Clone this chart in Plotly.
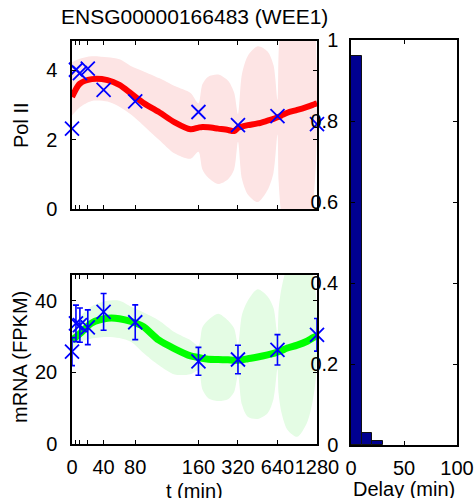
import math
import plotly.graph_objects as go

# ---------------- data ----------------
obs_t = [0, 5, 10, 20, 40, 80, 160, 320, 640, 1280]
polII_obs = [2.32, 4.02, 3.92, 4.05, 3.44, 3.11, 2.80, 2.42, 2.68, 2.45]
mrna_obs = [25.8, 33.7, 33.2, 32.6, 36.9, 34.0, 23.1, 23.6, 26.3, 30.5]
mrna_err = [3.9, 5.1, 4.8, 4.85, 5.15, 4.85, 3.9, 4.0, 4.25, 4.55]

curve_t = [0, 10, 25, 45, 60, 75, 90, 110, 130, 150, 160, 171.5, 190, 226, 269, 299,
           320, 343, 380, 452, 538, 597, 640, 653, 686, 761, 905, 1076, 1194, 1254, 1280]
polII_mean = [3.23, 3.62, 3.75, 3.72, 3.58, 3.33, 3.07, 2.80, 2.50, 2.30, 2.35, 2.37, 2.36, 2.32,
              2.28, 2.25, 2.34, 2.38, 2.42, 2.47, 2.55, 2.60, 2.65, 2.66, 2.70, 2.78, 2.86, 2.95,
              3.01, 3.04, 3.05]
polII_upper = [4.24, 4.34, 4.41, 4.38, 4.32, 4.12, 3.98, 3.78, 3.55, 3.35, 3.05, 3.60, 3.82, 3.88,
               3.70, 3.36, 2.74, 3.89, 4.42, 4.70, 4.55, 4.15, 3.15, 4.52, 5.60, 6.74, 7.36, 6.90,
               5.87, 4.84, 3.45]
polII_lower = [2.70, 2.94, 3.12, 3.10, 2.95, 2.72, 2.42, 2.00, 1.60, 1.45, 1.65, 1.14, 0.90, 0.72,
               0.86, 1.14, 1.94, 0.87, 0.42, 0.20, 0.55, 1.05, 2.15, 0.80, -0.20, -1.18, -1.64,
               -1.00, 0.15, 1.24, 2.65]
mrna_mean = [29.0, 30.8, 33.8, 35.1, 35.0, 34.2, 32.8, 29.0, 26.6, 24.6, 24.2, 23.9, 23.7, 23.6,
             23.5, 23.4, 23.4, 23.5, 23.8, 24.3, 24.9, 25.3, 25.7, 25.8, 26.1, 26.8, 27.6, 28.7,
             29.7, 30.1, 30.3]
mrna_upper = [31.5, 35.5, 38.5, 40.0, 40.0, 38.3, 36.8, 34.5, 31.2, 29.0, 27.5, 32.6, 34.6, 36.4,
              34.5, 32.3, 27.6, 36.0, 40.0, 43.2, 41.2, 38.0, 30.4, 37.6, 43.4, 49.6, 53.2, 51.4,
              46.9, 41.8, 34.8]
mrna_lower = [26.5, 28.5, 29.5, 29.9, 29.6, 28.5, 25.5, 22.0, 19.4, 19.5, 20.5, 15.2, 12.8, 12.0,
              12.5, 14.5, 19.2, 11.0, 7.6, 7.0, 8.6, 12.6, 21.1, 14.0, 8.8, 4.0, 2.0, 6.0, 12.5,
              18.4, 25.8]

tick_t = [0, 5, 10, 20, 40, 80, 160, 320, 640, 1280]
tick_labels = ["0", "", "", "", "40", "80", "160", "320", "640", "1280"]

delay_centers = [5, 15, 25]
delay_prob = [0.96, 0.03, 0.011]

title_text = "ENSG00000166483 (WEE1)"


# time axis: linear up to 160 min, logarithmic (per doubling) above
def tx(t):
    return t if t <= 160 else 160 + 50 * math.log2(t / 160)


def txs(ts):
    return [tx(t) for t in ts]


FONT = "Liberation Sans, Arial, Helvetica, sans-serif"
FS = 20
W, H = 475, 498
BLUE = "#0000FF"

fig = go.Figure()

# ---- Pol II panel ----
fig.add_trace(go.Scatter(x=txs(curve_t), y=polII_lower, mode="lines",
                         line=dict(width=0, shape="spline", smoothing=0.8),
                         xaxis="x", yaxis="y", hoverinfo="skip", showlegend=False))
fig.add_trace(go.Scatter(x=txs(curve_t), y=polII_upper, mode="lines", fill="tonexty",
                         fillcolor="rgb(253,228,228)",
                         line=dict(width=0, shape="spline", smoothing=0.8),
                         xaxis="x", yaxis="y", hoverinfo="skip", showlegend=False))
fig.add_trace(go.Scatter(x=txs(curve_t), y=polII_mean, mode="lines",
                         line=dict(color="#FF0000", width=6, shape="spline", smoothing=0.8),
                         xaxis="x", yaxis="y", showlegend=False))
fig.add_trace(go.Scatter(x=txs(obs_t), y=polII_obs, mode="markers",
                         marker=dict(symbol="x-thin", size=14, line=dict(color=BLUE, width=1.8)),
                         xaxis="x", yaxis="y", showlegend=False, cliponaxis=False))

# ---- mRNA panel ----
fig.add_trace(go.Scatter(x=txs(curve_t), y=mrna_lower, mode="lines",
                         line=dict(width=0, shape="spline", smoothing=0.8),
                         xaxis="x2", yaxis="y2", hoverinfo="skip", showlegend=False))
fig.add_trace(go.Scatter(x=txs(curve_t), y=mrna_upper, mode="lines", fill="tonexty",
                         fillcolor="rgb(228,252,228)",
                         line=dict(width=0, shape="spline", smoothing=0.8),
                         xaxis="x2", yaxis="y2", hoverinfo="skip", showlegend=False))
fig.add_trace(go.Scatter(x=txs(curve_t), y=mrna_mean, mode="lines",
                         line=dict(color="#00FF00", width=7, shape="spline", smoothing=0.8),
                         xaxis="x2", yaxis="y2", showlegend=False))
fig.add_trace(go.Scatter(x=txs(obs_t), y=mrna_obs, mode="markers",
                         marker=dict(symbol="x-thin", size=14, line=dict(color=BLUE, width=1.8)),
                         error_y=dict(type="data", array=mrna_err, visible=True,
                                      color=BLUE, thickness=1.6, width=3),
                         xaxis="x2", yaxis="y2", showlegend=False, cliponaxis=False))

# ---- delay histogram ----
fig.add_trace(go.Bar(x=delay_centers, y=delay_prob, width=10,
                     marker=dict(color="#000090", line=dict(color="#111111", width=1)),
                     xaxis="x3", yaxis="y3", showlegend=False))


# domains from pixel positions
def dx(a, b):
    return [a / W, b / W]


def dy(top, bot):
    return [1 - bot / H, 1 - top / H]


axis_common = dict(showline=True, linecolor="black", linewidth=1.5, mirror="ticks",
                   ticks="inside", ticklen=4, tickwidth=1, tickcolor="black",
                   showgrid=False, zeroline=False, automargin=False, tickangle=0,
                   tickfont=dict(family=FONT, size=FS, color="black"))

fig.update_layout(
    width=W, height=H,
    margin=dict(l=0, r=0, t=0, b=0, autoexpand=False),
    paper_bgcolor="white", plot_bgcolor="white",
    font=dict(family=FONT, size=FS, color="black"),
    bargap=0,
    xaxis=dict(domain=dx(72, 317), range=[0, tx(1280)], anchor="y",
               tickvals=txs(tick_t), ticktext=[""] * len(tick_t), **axis_common),
    yaxis=dict(domain=dy(41, 209), range=[0, 4.85], anchor="x",
               tickvals=[0, 2, 4], ticklabelstandoff=9, **axis_common),
    xaxis2=dict(domain=dx(72, 317), range=[0, tx(1280)], anchor="y2",
                tickvals=txs(tick_t), ticktext=tick_labels, ticklabelstandoff=4,
                **axis_common),
    yaxis2=dict(domain=dy(275, 444), range=[0, 47.2], anchor="x2",
                tickvals=[0, 20, 40], ticklabelstandoff=9, **axis_common),
    xaxis3=dict(domain=dx(351, 457), range=[0, 100], anchor="y3",
                tickvals=[0, 50, 100], ticklabelstandoff=4, **axis_common),
    yaxis3=dict(domain=dy(40, 445), range=[0, 1], anchor="x3",
                tickvals=[0, 0.2, 0.4, 0.6, 0.8, 1], ticklabelstandoff=7, **axis_common),
    annotations=[
        dict(text=title_text, x=194 / W, y=1 - 17 / H, xref="paper", yref="paper",
             showarrow=False, font=dict(family=FONT, size=21), xanchor="center", yanchor="middle"),
        dict(text="Pol II", x=21 / W, y=1 - 125 / H, xref="paper", yref="paper",
             showarrow=False, textangle=-90, font=dict(family=FONT, size=FS),
             xanchor="center", yanchor="middle"),
        dict(text="mRNA (FPKM)", x=20 / W, y=1 - 357 / H, xref="paper", yref="paper",
             showarrow=False, textangle=-90, font=dict(family=FONT, size=FS),
             xanchor="center", yanchor="middle"),
        dict(text="t (min)", x=194 / W, y=1 - 491 / H, xref="paper", yref="paper",
             showarrow=False, font=dict(family=FONT, size=FS),
             xanchor="center", yanchor="middle"),
        dict(text="Delay (min)", x=404 / W, y=1 - 489 / H, xref="paper", yref="paper",
             showarrow=False, font=dict(family=FONT, size=FS),
             xanchor="center", yanchor="middle"),
    ],
)

fig.write_html("out.html", config={"displayModeBar": False},
               post_script="document.body.style.margin='0';document.body.style.overflow='hidden';")
